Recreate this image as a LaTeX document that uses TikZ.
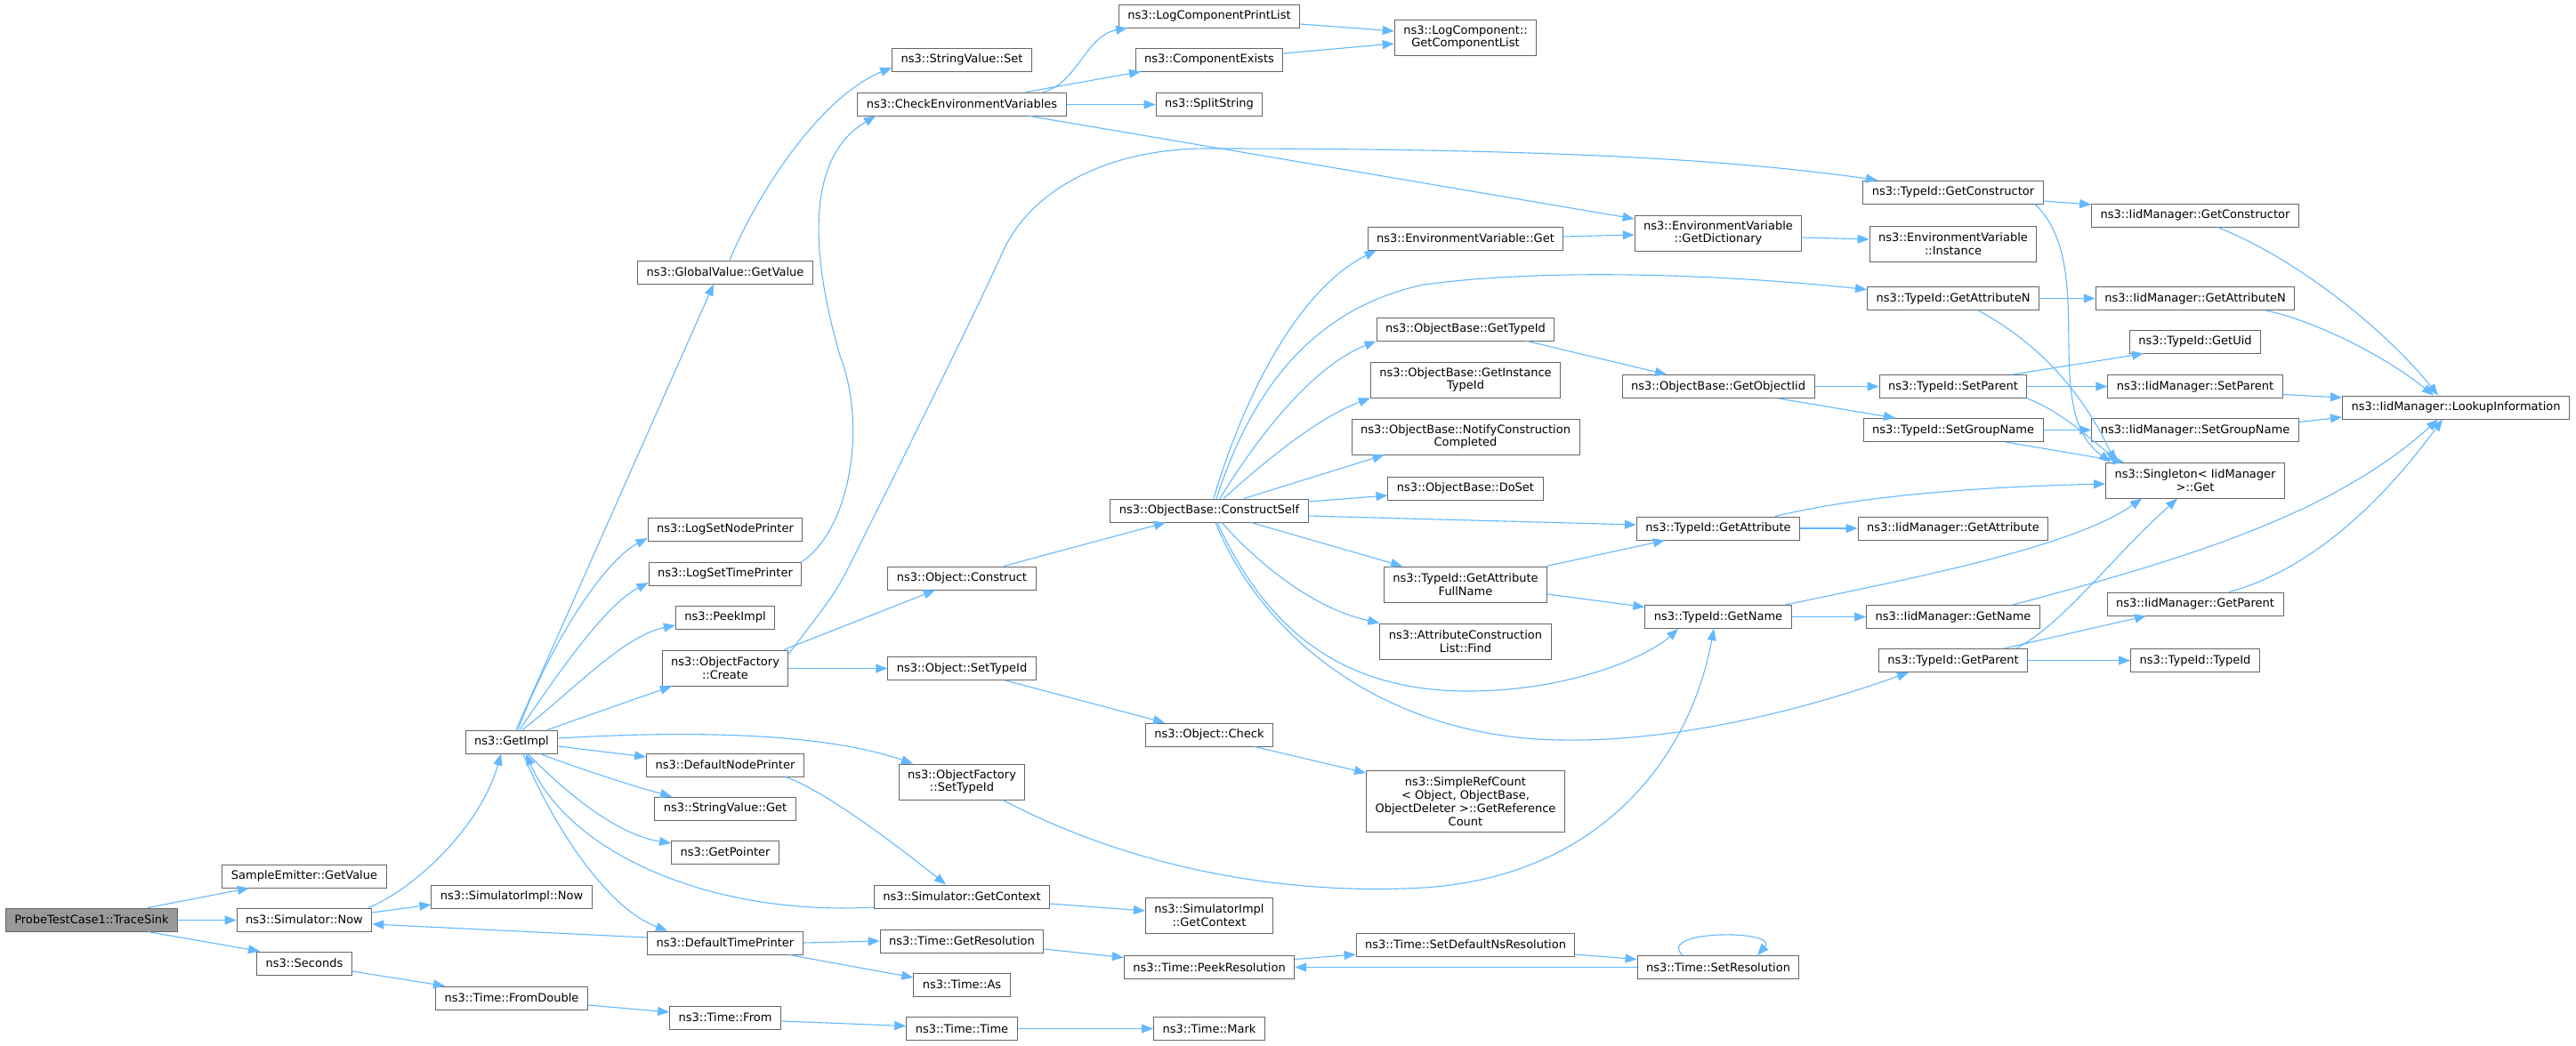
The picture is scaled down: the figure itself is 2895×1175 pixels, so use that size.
\documentclass[tikz,border=0pt]{standalone}
\usepackage{fontspec}
\setmainfont{DejaVu Sans}
\usetikzlibrary{arrows.meta}
\definecolor{edgeblue}{HTML}{63B8FF}
\definecolor{boxgray}{HTML}{666666}
\definecolor{rootgray}{HTML}{999999}

\begin{document}
\begin{tikzpicture}[
    x=1pt, y=-1pt,
    every node/.style={rectangle, draw=boxgray, line width=1pt, fill=white, align=center,
        font=\fontsize{13}{14.8}\selectfont, inner xsep=10pt, inner ysep=2pt, minimum height=26pt},
    two/.style={minimum height=40pt},
    four/.style={minimum height=69pt},
    root/.style={fill=rootgray},
    call/.style={draw=edgeblue, line width=1.1pt, -{Triangle[length=13pt, width=10pt]}}
]
\useasboundingbox (0,0) rectangle (2895,1175);

% Knoten
\node[root] (root) at (103,1034) {ProbeTestCase1::TraceSink};
\node (sampleget) at (342,985) {SampleEmitter::GetValue};
\node (simnow) at (342,1034) {ns3::Simulator::Now};
\node (seconds) at (342,1083) {ns3::Seconds};
\node (getimpl) at (575,834) {ns3::GetImpl};
\node (simimplnow) at (575,1008) {ns3::SimulatorImpl::Now};
\node (fromdouble) at (575,1122) {ns3::Time::FromDouble};
\node (globalget) at (815,306) {ns3::GlobalValue::GetValue};
\node (lognode) at (815,595) {ns3::LogSetNodePrinter};
\node (logtime) at (815,645) {ns3::LogSetTimePrinter};
\node (peekimpl) at (815,694) {ns3::PeekImpl};
\node[two] (ofcreate) at (815,751) {ns3::ObjectFactory\\::Create};
\node (defnode) at (815,860) {ns3::DefaultNodePrinter};
\node (strget) at (815,909) {ns3::StringValue::Get};
\node (getptr) at (815,958) {ns3::GetPointer};
\node (deftime) at (815,1060) {ns3::DefaultTimePrinter};
\node (timefrom) at (815,1144) {ns3::Time::From};
\node (strset) at (1081,67) {ns3::StringValue::Set};
\node (checkenv) at (1081,117) {ns3::CheckEnvironmentVariables};
\node (objconstruct) at (1081,650) {ns3::Object::Construct};
\node (objsettid) at (1081,751.5) {ns3::Object::SetTypeId};
\node[two] (ofsettid) at (1081,879) {ns3::ObjectFactory\\::SetTypeId};
\node (simctx) at (1081,1008) {ns3::Simulator::GetContext};
\node (getres) at (1081,1058) {ns3::Time::GetResolution};
\node (timeas) at (1081,1107) {ns3::Time::As};
\node (timetime) at (1081,1156.5) {ns3::Time::Time};
\node (printlist) at (1359,18) {ns3::LogComponentPrintList};
\node (compexists) at (1359,67) {ns3::ComponentExists};
\node (splitstr) at (1359,117) {ns3::SplitString};
\node (constructself) at (1359,574) {ns3::ObjectBase::ConstructSelf};
\node (objcheck) at (1359,826) {ns3::Object::Check};
\node[two] (simimplctx) at (1359,1029) {ns3::SimulatorImpl\\::GetContext};
\node (peekres) at (1359,1087.5) {ns3::Time::PeekResolution};
\node (timemark) at (1359,1156.5) {ns3::Time::Mark};
\node[two] (complist) at (1647,42) {ns3::LogComponent::\\GetComponentList};
\node (envget) at (1647,268) {ns3::EnvironmentVariable::Get};
\node (obgettid) at (1647,370) {ns3::ObjectBase::GetTypeId};
\node[two] (obinst) at (1647,427) {ns3::ObjectBase::GetInstance\\TypeId};
\node[two] (obnotify) at (1647,491) {ns3::ObjectBase::NotifyConstruction\\Completed};
\node (obdoset) at (1647,549) {ns3::ObjectBase::DoSet};
\node[two] (attrfull) at (1647,657) {ns3::TypeId::GetAttribute\\FullName};
\node[two] (aclfind) at (1647,721) {ns3::AttributeConstruction\\List::Find};
\node[four] (refcount) at (1647,901) {ns3::SimpleRefCount\\< Object, ObjectBase,\\ObjectDeleter >::GetReference\\Count};
\node (setdefres) at (1647,1062) {ns3::Time::SetDefaultNsResolution};
\node[two] (envdict) at (1931,262) {ns3::EnvironmentVariable\\::GetDictionary};
\node (getoiid) at (1931,434.5) {ns3::ObjectBase::GetObjectIid};
\node (tidgetattr) at (1931,594) {ns3::TypeId::GetAttribute};
\node (tidgetname) at (1931,693.5) {ns3::TypeId::GetName};
\node (setres) at (1931,1087.5) {ns3::Time::SetResolution};
\node (tidgetctor) at (2195,216) {ns3::TypeId::GetConstructor};
\node[two] (envinst) at (2195,274) {ns3::EnvironmentVariable\\::Instance};
\node (tidgetattrn) at (2195,335.5) {ns3::TypeId::GetAttributeN};
\node (tidsetparent) at (2195,434.5) {ns3::TypeId::SetParent};
\node (tidsetgroup) at (2195,483.5) {ns3::TypeId::SetGroupName};
\node (iidgetattr) at (2195,594) {ns3::IidManager::GetAttribute};
\node (iidgetname) at (2195,693.5) {ns3::IidManager::GetName};
\node (tidgetparent) at (2195,742.5) {ns3::TypeId::GetParent};
\node (iidgetctor) at (2467,242) {ns3::IidManager::GetConstructor};
\node (iidgetattrn) at (2467,335.5) {ns3::IidManager::GetAttributeN};
\node (tidgetuid) at (2467,384) {ns3::TypeId::GetUid};
\node (iidsetparent) at (2467,434.5) {ns3::IidManager::SetParent};
\node (iidsetgroup) at (2467,483.5) {ns3::IidManager::SetGroupName};
\node[two] (singleton) at (2467,540) {ns3::Singleton< IidManager\\ >::Get};
\node (iidgetparent) at (2467,679) {ns3::IidManager::GetParent};
\node (tidtypeid) at (2467,742.5) {ns3::TypeId::TypeId};
\node (lookup) at (2760,458) {ns3::IidManager::LookupInformation};

% Aufrufe
\draw[call] ([xshift=63pt]root.north) -- ([xshift=-62pt]sampleget.south);
\draw[call] ([yshift=-0.5pt]root.east) -- ([yshift=-0.5pt]simnow.west);
\draw[call] ([xshift=63pt]root.south) -- ([xshift=-50pt]seconds.north);
\draw[call] ([xshift=72pt]simnow.north) .. controls (465,1000) and (540,930) .. ([xshift=-12pt]getimpl.south);
\draw[call] ([yshift=8pt]simnow.east) -- ([yshift=-9pt]simimplnow.west);
\draw[call] ([yshift=6pt]deftime.west) -- ([yshift=-5pt]simnow.east);
\draw[call] ([yshift=-9pt]seconds.east) -- ([xshift=-75pt]fromdouble.north);
\draw[call] ([yshift=-8pt]fromdouble.east) -- ([yshift=6pt]timefrom.west);
\draw[call] ([yshift=-4pt]timefrom.east) -- ([yshift=3pt]timetime.west);
\draw[call] (timetime) -- (timemark);

\draw[call] ([xshift=5pt]getimpl.north) -- ([xshift=-13pt]globalget.south);
\draw[call] ([xshift=7pt]getimpl.north) .. controls (620,720) and (680,630) .. ([yshift=-10pt]lognode.west);
\draw[call] ([xshift=9pt]getimpl.north) .. controls (625,760) and (680,680) .. ([yshift=-10pt]logtime.west);
\draw[call] ([xshift=12pt]getimpl.north) .. controls (640,780) and (700,715) .. ([yshift=-9pt]peekimpl.west);
\draw[call] ([xshift=40pt]getimpl.north) -- ([xshift=-60pt]ofcreate.south);
\draw[call] ([yshift=4pt]getimpl.east) .. controls (760,822) and (920,822) .. ([xshift=-55pt]ofsettid.north);
\draw[call] ([yshift=-5pt]getimpl.east) -- ([yshift=9pt]defnode.west);
\draw[call] ([xshift=32pt]getimpl.south) .. controls (645,862) and (705,882) .. ([xshift=-60pt]strget.north);
\draw[call] ([xshift=18pt]getimpl.south) .. controls (630,885) and (690,938) .. ([yshift=10pt]getptr.west);
\draw[call] ([xshift=13pt]getimpl.south) .. controls (620,925) and (680,1020) .. ([xshift=-65pt]deftime.north);
\draw[call] ([yshift=-12pt]simctx.west) .. controls (800,1030) and (640,960) .. ([xshift=16pt]getimpl.south);
\draw[call] ([xshift=68pt]defnode.south) .. controls (930,890) and (1020,960) .. ([xshift=-18pt]simctx.north);
\draw[call] ([yshift=-8pt]simctx.east) -- ([yshift=5pt]simimplctx.west);
\draw[call] (deftime.east) -- (getres.west);
\draw[call] ([xshift=72pt]deftime.south) -- ([yshift=8pt]timeas.west);
\draw[call] ([yshift=-9pt]getres.east) -- ([yshift=11pt]peekres.west);
\draw[call] ([yshift=9pt]peekres.east) -- ([yshift=-11pt]setdefres.west);
\draw[call] ([yshift=-11pt]setdefres.east) -- ([yshift=9pt]setres.west);
\draw[call] (setres.west) -- (peekres.east);
\draw[call] ([xshift=-40pt]setres.north) .. controls (1860,1045) and (2000,1045) .. ([xshift=44pt]setres.north);

\draw[call] ([xshift=5pt]globalget.north) .. controls (850,220) and (920,110) .. ([yshift=-9pt]strset.west);
\draw[call] (logtime.north east) .. controls (955,595) and (975,480) .. (944,400)
    .. controls (915,300) and (900,180) .. ([xshift=-97pt]checkenv.south);
\draw[call] ([xshift=91pt]checkenv.north) .. controls (1210,95) and (1220,40) .. ([xshift=-92pt]printlist.south);
\draw[call] ([xshift=72pt]checkenv.north) -- ([xshift=-77pt]compexists.south);
\draw[call] ([yshift=-0.5pt]checkenv.east) -- ([yshift=-0.5pt]splitstr.west);
\draw[call] ([xshift=76pt]checkenv.south) -- ([yshift=16pt]envdict.west);
\draw[call] ([yshift=-9pt]printlist.east) -- ([yshift=7pt]complist.west);
\draw[call] ([yshift=7pt]compexists.east) -- ([yshift=-7pt]complist.west);

\draw[call] ([xshift=66pt]ofcreate.north) -- ([xshift=-30pt]objconstruct.south);
\draw[call] ([yshift=-0.5pt]ofcreate.east) -- (objsettid.west);
\draw[call] ([yshift=16pt]ofcreate.east) .. controls (940,665) and (940,665) .. (959,627)
    .. controls (990,565) and (1095,355) .. (1127,283)
    .. controls (1160,210) and (1250,167) .. (1356,167)
    .. controls (1750,167) and (1950,180) .. ([xshift=-85pt]tidgetctor.north);
\draw[call] ([xshift=47pt]objconstruct.north) -- ([xshift=-49pt]constructself.south);
\draw[call] ([xshift=49pt]objsettid.south) -- ([xshift=-50pt]objcheck.north);
\draw[call] ([xshift=51pt]objcheck.south) -- ([yshift=-3pt]refcount.north west);
\draw[call] ([xshift=46pt]ofsettid.south) .. controls (1300,990) and (1480,1005) .. (1600,998)
    .. controls (1800,985) and (1900,850) .. ([xshift=-5pt]tidgetname.south);

\draw[call] ([xshift=5pt]constructself.north) .. controls (1390,470) and (1450,330) .. ([xshift=10pt]envget.south west);
\draw[call] ([xshift=8pt]constructself.north) .. controls (1400,460) and (1460,350) .. (1600,320)
    .. controls (1750,300) and (1950,310) .. ([yshift=10pt]tidgetattrn.west);
\draw[call] ([xshift=12pt]constructself.north) .. controls (1420,480) and (1480,410) .. (obgettid.south west);
\draw[call] ([xshift=16pt]constructself.north) .. controls (1420,520) and (1480,470) .. (obinst.south west);
\draw[call] ([xshift=39pt]constructself.north) -- ([xshift=37pt]obnotify.south west);
\draw[call] ([yshift=10pt]constructself.east) -- ([yshift=-8pt]obdoset.west);
\draw[call] ([yshift=-6pt]constructself.east) -- ([yshift=4pt]tidgetattr.west);
\draw[call] ([xshift=47pt]constructself.south) -- ([xshift=-71pt]attrfull.north);
\draw[call] ([xshift=14pt]constructself.south) .. controls (1420,640) and (1480,685) .. (aclfind.north west);
\draw[call] ([xshift=9pt]constructself.south) .. controls (1420,700) and (1500,777) .. (1650,777)
    .. controls (1760,777) and (1850,740) .. ([xshift=-45pt]tidgetname.south);
\draw[call] ([xshift=7pt]constructself.south) .. controls (1420,720) and (1560,830) .. (1756,832)
    .. controls (1900,834) and (2050,790) .. ([xshift=-50pt]tidgetparent.south);

\draw[call] ([yshift=2pt]envget.east) -- ([yshift=-2pt]envdict.west);
\draw[call] ([yshift=-5pt]envdict.east) -- ([yshift=5pt]envinst.west);
\draw[call] ([xshift=69pt]obgettid.south) -- ([xshift=-58pt]getoiid.north);
\draw[call] (getoiid.east) -- (tidsetparent.west);
\draw[call] ([xshift=68pt]getoiid.south) -- ([xshift=-65pt]tidsetgroup.north);
\draw[call] ([xshift=91pt]attrfull.north) -- ([xshift=-60pt]tidgetattr.south);
\draw[call] ([yshift=-11pt]attrfull.east) -- ([yshift=11pt]tidgetname.west);
\draw[call] (tidgetattr.east) -- (iidgetattr.west);
\draw[call] ([xshift=64pt]tidgetattr.north) .. controls (2080,560) and (2200,548) .. ([yshift=-4pt]singleton.west);
\draw[call] (tidgetname.east) -- (iidgetname.west);
\draw[call] ([xshift=75pt]tidgetname.north) .. controls (2150,650) and (2330,615) .. ([xshift=-60pt]singleton.south);

\draw[call] ([yshift=-10pt]tidgetctor.east) -- ([yshift=12pt]iidgetctor.west);
\draw[call] ([xshift=92pt]tidgetctor.south) .. controls (2360,300) and (2290,460) .. ([xshift=-95pt]singleton.north);
\draw[call] (tidgetattrn.east) -- (iidgetattrn.west);
\draw[call] ([xshift=28pt]tidgetattrn.south) .. controls (2290,385) and (2340,440) .. ([xshift=-90pt]singleton.north);
\draw[call] ([xshift=67pt]tidsetparent.north) -- ([xshift=-58pt]tidgetuid.south);
\draw[call] (tidsetparent.east) -- (iidsetparent.west);
\draw[call] (tidsetparent.south east) .. controls (2315,462) and (2345,490) .. ([xshift=-85pt]singleton.north);
\draw[call] (tidsetgroup.east) -- (iidsetgroup.west);
\draw[call] ([xshift=59pt]tidsetgroup.south) -- ([xshift=-80pt]singleton.north);
\draw[call] ([xshift=57pt]tidgetparent.north) -- ([xshift=-55pt]iidgetparent.south);
\draw[call] ([xshift=71pt]tidgetparent.north) .. controls (2320,700) and (2370,630) .. ([xshift=-20pt]singleton.south);
\draw[call] (tidgetparent.east) -- (tidtypeid.west);

\draw[call] ([xshift=25pt]iidgetctor.south) .. controls (2580,290) and (2680,370) .. ([xshift=-20pt]lookup.north);
\draw[call] ([xshift=79pt]iidgetattrn.south) .. controls (2600,360) and (2680,400) .. ([xshift=-25pt]lookup.north);
\draw[call] ([yshift=-9pt]iidsetparent.east) -- ([yshift=11pt]lookup.west);
\draw[call] ([yshift=9pt]iidsetgroup.east) -- ([yshift=-11pt]lookup.west);
\draw[call] ([xshift=67pt]iidgetname.north) .. controls (2450,630) and (2620,580) .. ([xshift=-20pt]lookup.south);
\draw[call] ([xshift=38pt]iidgetparent.north) .. controls (2600,640) and (2680,560) .. ([xshift=-15pt]lookup.south);

\end{tikzpicture}
\end{document}
